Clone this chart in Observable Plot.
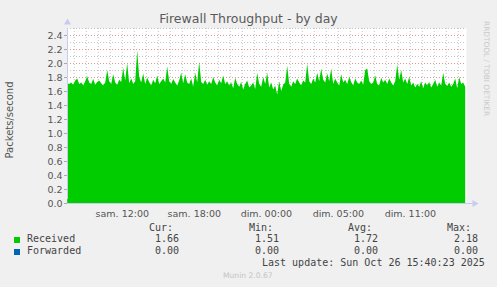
<!DOCTYPE html>
<html><head><meta charset="utf-8">
<script src="https://cdn.jsdelivr.net/npm/d3@7"></script>
<script src="https://cdn.jsdelivr.net/npm/@observablehq/plot@0.6"></script>
<style>
body{margin:0;background:#f0f0f0;}
#c{position:relative;width:497px;height:287px;overflow:hidden;background:#f0f0f0;font-family:"DejaVu Sans",sans-serif;}
#c svg{position:absolute;left:0;top:0;}
.t{position:absolute;white-space:pre;}
.m{font-family:"DejaVu Sans Mono",monospace;font-size:10px;color:#444;line-height:12px;}
</style></head><body><div id="c"></div>
<script>
const title = "Firewall Throughput - by day";
const yLabel = "Packets/second";
const startTime = "2025-10-25T05:26:00Z";
const endTime = "2025-10-26T14:41:00Z";
const stepMinutes = 10;
// Received packets/second, one value per 10 minutes
const received = [
1.71,1.70,1.72,1.69,1.75,1.78,1.70,1.72,1.68,1.74,
1.81,1.72,1.70,1.77,1.69,1.73,1.75,1.71,1.68,1.72,
1.90,1.74,1.70,1.84,1.72,1.69,1.76,1.73,1.93,1.75,
2.00,1.71,1.78,1.70,1.74,2.18,1.80,1.72,1.85,1.70,
1.79,1.73,1.68,1.76,1.71,1.82,1.70,1.74,1.78,1.72,
1.95,1.74,1.70,1.77,1.72,1.68,1.75,1.86,1.71,1.84,
1.72,1.70,1.78,1.66,1.86,1.72,2.02,1.73,1.70,1.76,
1.69,1.74,1.70,1.80,1.72,1.68,1.76,1.71,1.82,1.70,
1.74,1.68,1.72,1.64,1.79,1.70,1.66,1.73,1.62,1.70,
1.75,1.65,1.68,1.72,1.63,1.86,1.70,1.66,1.80,1.70,
1.86,1.65,1.72,1.62,1.68,1.55,1.74,1.60,1.69,1.72,
1.96,1.70,1.66,1.74,1.70,1.78,1.72,1.68,1.75,1.72,
1.99,1.74,1.70,1.78,1.72,1.86,1.74,1.92,1.76,1.72,
1.85,1.74,1.92,1.70,1.78,1.72,1.68,1.84,1.72,1.76,
1.70,1.80,1.73,1.68,1.78,1.72,1.70,1.75,1.69,1.90,
1.92,1.74,1.70,1.72,1.82,1.70,1.68,1.79,1.72,1.76,
1.70,1.78,1.72,1.68,1.74,1.98,1.76,1.90,1.72,1.78,
1.70,1.80,1.68,1.72,1.65,1.70,1.66,1.74,1.64,1.72,
1.68,1.73,1.65,1.70,1.76,1.66,1.72,1.68,1.86,1.70,
1.67,1.72,1.66,1.70,1.78,1.64,1.80,1.70,1.72,1.66
];
const tickDates = ["2025-10-25T10:00:00Z","2025-10-25T16:00:00Z","2025-10-25T22:00:00Z","2025-10-26T04:00:00Z","2025-10-26T10:00:00Z"];
const tickLabels = ["sam. 12:00","sam. 18:00","dim. 00:00","dim. 05:00","dim. 11:00"];
const yMax = 2.5;
const statHeaders = ["Cur:","Min:","Avg:","Max:"];
const seriesNames = ["Received","Forwarded"];
const seriesColors = ["#00cc00","#0066b3"];
const receivedStats = ["1.66","1.51","1.72","2.18"];
const forwardedStats = ["0.00","0.00","0.00","0.00"];
const lastUpdate = "Last update: Sun Oct 26 15:40:23 2025";
const version = "Munin 2.0.67";
const watermark = "RRDTOOL / TOBI OETIKER";

const t0 = new Date(startTime), t1 = new Date(endTime);
const firstSample = new Date(+t0 + 60000);
const data = received.map((v, i) => ({t: new Date(+firstSample + i * stepMinutes * 60000), v}));
const minorX = d3.utcHour.range(t0, t1);
const majorX = d3.utcHour.every(3).range(t0, t1).filter(d => d.getUTCHours() % 3 === 1);
const minorY = d3.range(0.1, yMax + 0.001, 0.2).map(d => +d.toFixed(1));
const majorY = d3.range(0, yMax, 0.2).map(d => +d.toFixed(1));
const axisBlue = "#c6cbf2";

const plot = Plot.plot({
  width: 497, height: 287,
  marginLeft: 67, marginRight: 31, marginTop: 28, marginBottom: 84,
  style: {background: "transparent", fontFamily: "DejaVu Sans", fontSize: "9.5px", color: "#555", overflow: "visible"},
  x: {type: "utc", domain: [t0, t1]},
  y: {domain: [0, yMax]},
  marks: [
    Plot.frame({fill: "white", stroke: null}),
    Plot.ruleX(minorX, {stroke: "#c4c4c4", strokeDasharray: "1,2"}),
    Plot.ruleY(minorY, {stroke: "#c4c4c4", strokeDasharray: "1,2"}),
    Plot.ruleX(majorX, {stroke: "#e39494", strokeDasharray: "1,2"}),
    Plot.ruleY(majorY.filter(d => d > 0), {stroke: "#e39494", strokeDasharray: "1,2"}),
    Plot.areaY(data, {x: "t", y: "v", fill: seriesColors[0], curve: "linear"}),
    Plot.axisY({ticks: majorY, tickFormat: d3.format(".1f"), tickSize: 3, tickPadding: 2, label: null, color: "#555", stroke: "#aaa"}),
    Plot.axisX({ticks: majorX, tickFormat: () => "", tickSize: 3, label: null, stroke: "#e08a8a"}),
    Plot.axisX({ticks: tickDates.map(d => new Date(d)), tickFormat: (d, i) => tickLabels[i], tickSize: 0, tickPadding: 7, label: null}),
    Plot.ruleX([t0], {y1: 0, y2: yMax, stroke: axisBlue, insetTop: -4}),
    Plot.ruleY([0], {x1: t0, x2: t1, stroke: axisBlue, insetRight: -9}),
    Plot.dot([t0], {x: d => d, y: () => yMax, symbol: "triangle", r: 2.6, fill: axisBlue, stroke: null, dy: -6}),
    Plot.dot([t1], {x: d => d, y: () => 0, symbol: "triangle", r: 2.6, fill: axisBlue, stroke: null, rotate: 90, dx: 8})
  ]
});
const c = document.getElementById("c");
c.appendChild(plot);

function add(text, css, cls) {
  const d = document.createElement("div");
  d.className = "t" + (cls ? " " + cls : "");
  d.textContent = text;
  Object.assign(d.style, css);
  c.appendChild(d);
  return d;
}
add(title, {left: "0px", width: "497px", textAlign: "center", top: "11px", fontSize: "12.5px", color: "#5a5a5a", lineHeight: "16px"});
add(yLabel, {left: "10px", top: "120px", fontSize: "10px", color: "#555", transform: "translate(-50%,-50%) rotate(-90deg)", lineHeight: "12px"});
add(watermark, {left: "482px", top: "21px", fontSize: "7.4px", color: "#c8c8c8", writingMode: "vertical-rl", lineHeight: "9px"});

const headLeft = [149, 249, 348, 447];
const valLeft = [155, 255, 354, 454];
statHeaders.forEach((h, i) => add(h, {left: headLeft[i] + "px", top: "222px"}, "m"));
const rowTop = [233, 245];
const stats = [receivedStats, forwardedStats];
seriesNames.forEach((n, r) => {
  add("", {left: "14px", top: (rowTop[r] + 4) + "px", width: "6px", height: "6px", background: seriesColors[r]});
  add(n, {left: "27px", top: rowTop[r] + "px"}, "m");
  stats[r].forEach((v, i) => add(v, {left: valLeft[i] + "px", top: rowTop[r] + "px"}, "m"));
});
add(lastUpdate, {left: "262px", top: "257px"}, "m");
add(version, {left: "223px", top: "271px", fontSize: "7.6px", color: "#c4c4c4", lineHeight: "10px"});
</script></body></html>
